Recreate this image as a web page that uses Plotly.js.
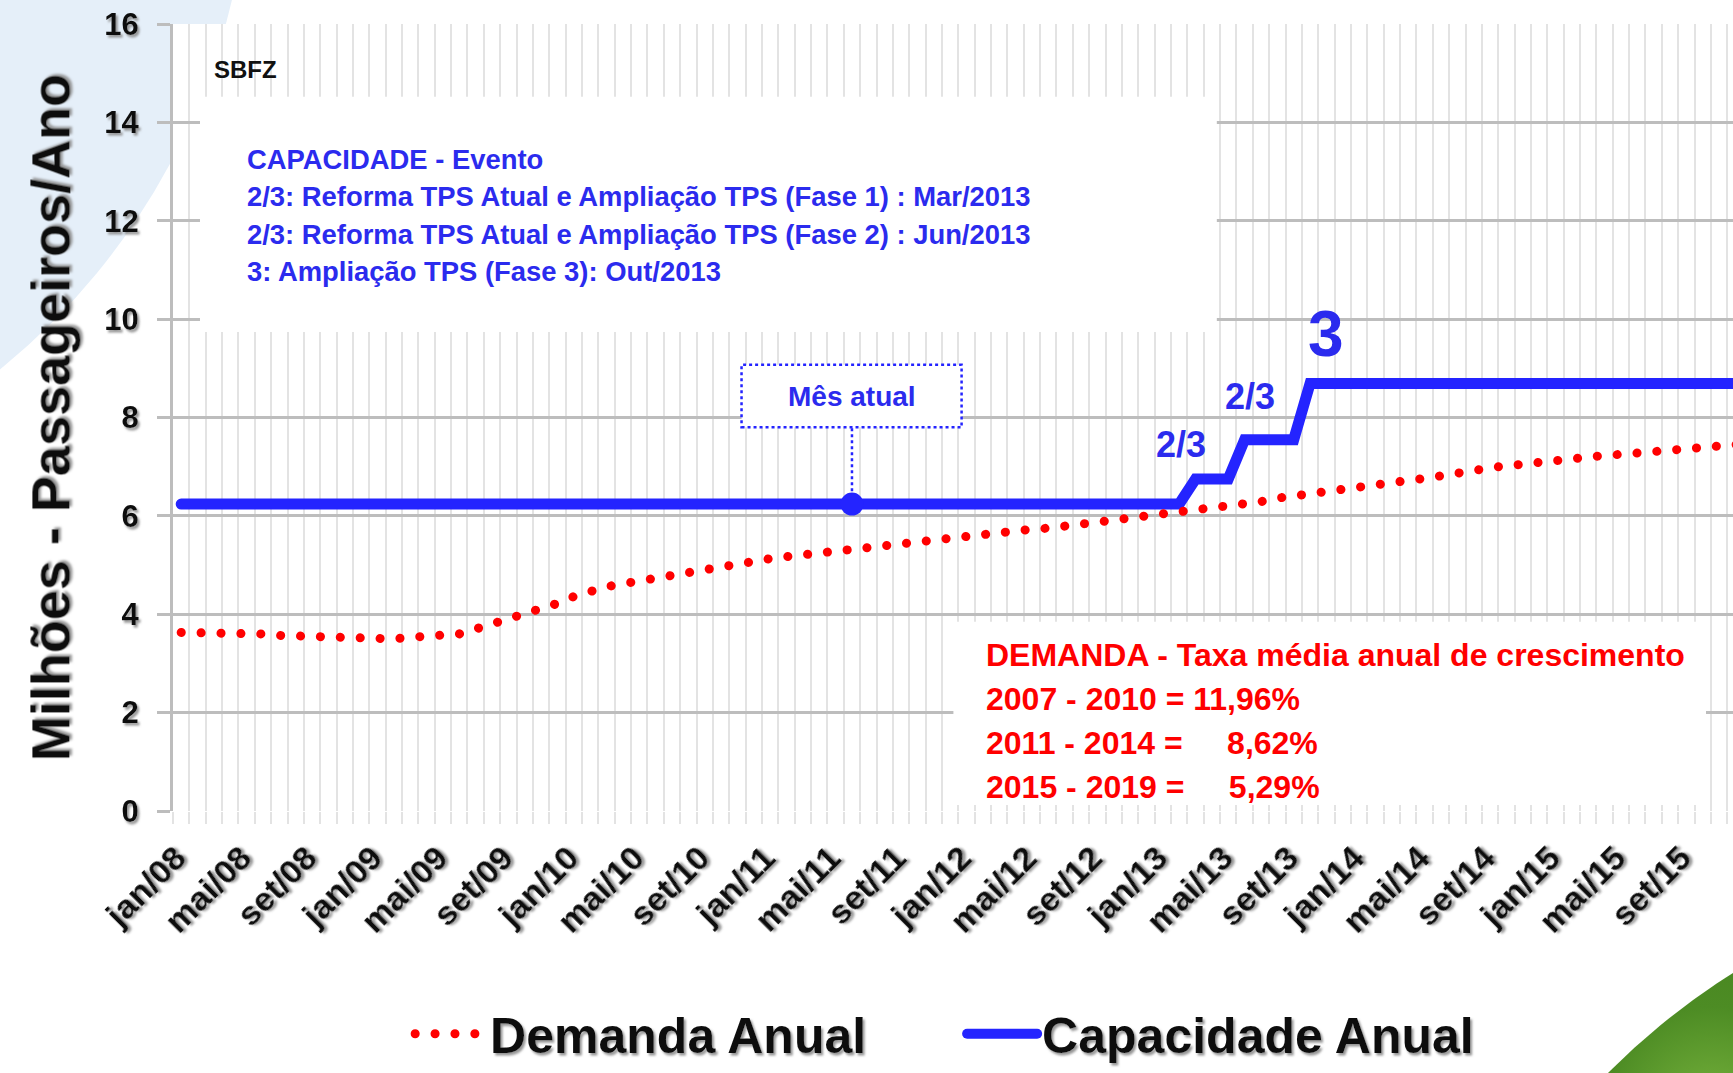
<!DOCTYPE html>
<html>
<head>
<meta charset="utf-8">
<script src="https://cdn.plot.ly/plotly-3.0.1.min.js"></script>
<style>
html,body{margin:0;padding:0;background:#fff;overflow:hidden}
#wrap{position:relative;width:1733px;height:1073px;overflow:hidden;background:#fff}
#bgblue{position:absolute;left:-1100px;top:-830px;width:1350px;height:1350px;border-radius:50%;background:#e5eff9}
#bggreen{position:absolute;left:1403px;top:865px;width:1410px;height:1410px;border-radius:50%;background:radial-gradient(circle at 22% 18%,#79b43e 0%,#4d8c24 7%,#2f6a12 28%)}
#chart{position:absolute;left:0;top:0;width:1733px;height:1073px}
.scatterlayer path.js-line,.legend path.js-line{stroke-linecap:round}
.xtick text,.ytick text,.ytitle,.legendtext{filter:url(#sh)}
</style>
</head>
<body>
<svg width="0" height="0" style="position:absolute">
  <defs>
    <filter id="sh" x="-10%" y="-30%" width="130%" height="170%">
      <feDropShadow dx="2" dy="2.5" stdDeviation="1" flood-color="#8a8a8a" flood-opacity="0.9"/>
    </filter>
  </defs>
</svg>
<div id="wrap">
  <div id="bgblue"></div>
  <div id="bggreen"></div>
  <div id="chart"></div>
</div>
<script>
// ---- data ----
const monthNames = ['jan','fev','mar','abr','mai','jun','jul','ago','set','out','nov','dez'];
const yearCodes = ['08','09','10','11','12','13','14','15','16'];
const nMonths = 97; // jan/08 .. jan/16

const tickLabels = ['jan/08','mai/08','set/08','jan/09','mai/09','set/09','jan/10','mai/10','set/10',
  'jan/11','mai/11','set/11','jan/12','mai/12','set/12','jan/13','mai/13','set/13',
  'jan/14','mai/14','set/14','jan/15','mai/15','set/15'];

// Demanda Anual (milhões de passageiros/ano), monthly from jan/08
const demanda = [
  3.63,3.63,3.62,3.62,3.61,3.60,3.57,3.56,3.56,3.55,3.52,3.49,
  3.48,3.50,3.53,3.55,3.56,3.60,3.70,3.80,3.91,4.00,4.12,4.22,
  4.36,4.47,4.56,4.62,4.68,4.73,4.78,4.84,4.93,4.99,5.04,5.09,
  5.13,5.17,5.21,5.23,5.25,5.29,5.33,5.37,5.42,5.46,5.49,5.53,
  5.57,5.62,5.66,5.70,5.73,5.75,5.79,5.83,5.86,5.89,5.94,5.99,
  6.03,6.07,6.12,6.17,6.21,6.24,6.29,6.36,6.41,6.44,6.48,6.55,
  6.60,6.64,6.69,6.72,6.76,6.80,6.86,6.92,6.98,7.02,7.05,7.09,
  7.14,7.17,7.20,7.23,7.25,7.27,7.30,7.34,7.37,7.39,7.42,7.45,
  7.47
];

// Capacidade Anual (milhões de passageiros/ano), monthly from jan/08
const capacidade = [
  6.24,6.24,6.24,6.24,6.24,6.24,6.24,6.24,6.24,6.24,6.24,6.24,
  6.24,6.24,6.24,6.24,6.24,6.24,6.24,6.24,6.24,6.24,6.24,6.24,
  6.24,6.24,6.24,6.24,6.24,6.24,6.24,6.24,6.24,6.24,6.24,6.24,
  6.24,6.24,6.24,6.24,6.24,6.24,6.24,6.24,6.24,6.24,6.24,6.24,
  6.24,6.24,6.24,6.24,6.24,6.24,6.24,6.24,6.24,6.24,6.24,6.24,
  6.24,6.24,6.75,6.75,6.75,7.55,7.55,7.55,7.55,8.69,8.69,8.69,
  8.69,8.69,8.69,8.69,8.69,8.69,8.69,8.69,8.69,8.69,8.69,8.69,
  8.69,8.69,8.69,8.69,8.69,8.69,8.69,8.69,8.69,8.69,8.69,8.69,
  8.69
];

const mesAtual = 'jun/11';

const eventoLinhas = [
  'CAPACIDADE - Evento',
  '2/3: Reforma TPS Atual e Ampliação TPS (Fase 1) : Mar/2013',
  '2/3: Reforma TPS Atual e Ampliação TPS (Fase 2) : Jun/2013',
  '3: Ampliação TPS (Fase 3): Out/2013'
];
const demandaLinhas = [
  'DEMANDA - Taxa média anual de crescimento',
  '2007 - 2010 = 11,96%',
  '2011 - 2014 =\u00a0\u00a0\u00a0\u00a0 8,62%',
  '2015 - 2019 =\u00a0\u00a0\u00a0\u00a0 5,29%'
];
const eventos = [
  {label:'2/3', month:'fev/13'},
  {label:'2/3', month:'jun/13'},
  {label:'3',   month:'out/13'}
];

// ---- build ----
const months = [];
for (const y of yearCodes) for (const m of monthNames) if (months.length < nMonths) months.push(m + '/' + y);
const xIdx = months.map((_, i) => i);
const tickvals = tickLabels.map(l => months.indexOf(l));
const iAtual = months.indexOf(mesAtual);

const BLUE = '#2424ff';
const BLUE_TXT = '#2b2bee';
const RED = '#ff0000';
const FONT = 'Liberation Sans, Arial, sans-serif';

const traces = [
  {x:xIdx, y:capacidade, type:'scatter', mode:'lines', name:'Capacidade Anual',
   line:{color:BLUE, width:11}, legendrank:2, hoverinfo:'skip'},
  {x:xIdx, y:demanda, type:'scatter', mode:'lines', name:'Demanda Anual',
   line:{color:RED, width:9, dash:'0.1px,19.8px'}, legendrank:1, hoverinfo:'skip'},
  {x:[iAtual], y:[capacidade[iAtual]], type:'scatter', mode:'markers', showlegend:false,
   marker:{color:BLUE, size:23}, hoverinfo:'skip'}
];

const annotations = [];
annotations.push({xref:'x', yref:'y', x:1.88, y:15.08, xanchor:'left', yanchor:'middle', showarrow:false,
  text:'SBFZ', font:{family:FONT, size:24, weight:'bold', color:'#111'}});
const evY = [13.25, 12.50, 11.73, 10.97];
eventoLinhas.forEach((t, k) => annotations.push({xref:'x', yref:'y', x:3.89, y:evY[k], xanchor:'left', yanchor:'middle',
  showarrow:false, text:t, font:{family:FONT, size:27.4, weight:'bold', color:BLUE_TXT}}));
const dmY = [3.17, 2.27, 1.38, 0.49];
demandaLinhas.forEach((t, k) => annotations.push({xref:'x', yref:'y', x:49.07, y:dmY[k], xanchor:'left', yanchor:'middle',
  showarrow:false, text:t, font:{family:FONT, size:32, weight:'bold', color:RED}}));
annotations.push({xref:'x', yref:'y', x:iAtual, y:8.43, xanchor:'center', yanchor:'middle', showarrow:false,
  text:'Mês atual', font:{family:FONT, size:28, weight:'bold', color:BLUE_TXT}});
const evPos = [{dx:0.1, y:7.46, size:36}, {dx:0.3, y:8.43, size:36}, {dx:1.0, y:9.70, size:64}];
eventos.forEach((e, k) => annotations.push({xref:'x', yref:'y', x:months.indexOf(e.month) + evPos[k].dx, y:evPos[k].y,
  xanchor:'center', yanchor:'middle', showarrow:false, text:e.label,
  font:{family:FONT, size:evPos[k].size, weight:'bold', color:BLUE_TXT}}));

const shapes = [
  {type:'rect', xref:'x', yref:'y', x0:1.15, x1:63.3, y0:9.74, y1:14.52, fillcolor:'#ffffff', line:{width:0}, layer:'above'},
  {type:'rect', xref:'x', yref:'y', x0:47.2, x1:93.2, y0:0.12, y1:3.85, fillcolor:'#ffffff', line:{width:0}, layer:'above'},
  {type:'rect', xref:'x', yref:'y', x0:iAtual - 6.75, x1:iAtual + 6.7, y0:7.80, y1:9.07, fillcolor:'#ffffff',
   line:{color:BLUE, width:2.5, dash:'dot'}, layer:'above'},
  {type:'line', xref:'x', yref:'y', x0:iAtual, x1:iAtual, y0:6.5, y1:7.80, line:{color:BLUE, width:2.5, dash:'dot'}, layer:'above'}
];

const layout = {
  width:1733, height:1073,
  margin:{l:173, r:0, t:24, b:255, pad:0},
  paper_bgcolor:'rgba(0,0,0,0)',
  plot_bgcolor:'#ffffff',
  font:{family:FONT, color:'#000'},
  showlegend:true,
  xaxis:{
    range:[-0.5, 94.85], tickmode:'array', tickvals:tickvals, ticktext:tickLabels,
    tickangle:-45, tickfont:{family:FONT, size:34, weight:'bold', color:'#111'},
    ticklabelstandoff:19, ticklabelshift:-5,
    ticks:'', showgrid:false, zeroline:false, showline:false, fixedrange:true,
    minor:{tickmode:'linear', tick0:0.5, dtick:1, showgrid:true, gridcolor:'#e3e3e3', gridwidth:2,
      ticks:'outside', ticklen:12, tickcolor:'#e3e3e3', tickwidth:2}
  },
  yaxis:{
    range:[0,16], tickmode:'linear', tick0:0, dtick:2,
    showgrid:true, gridcolor:'#bdbdbd', gridwidth:3,
    ticks:'outside', ticklen:13, tickwidth:3, tickcolor:'#bdbdbd',
    showline:true, linecolor:'#bdbdbd', linewidth:3, zeroline:false, fixedrange:true,
    tickfont:{family:FONT, size:31, weight:'bold', color:'#111'},
    ticklabelstandoff:12,
    title:{text:'Milhões - Passageiros/Ano\u00a0\u00a0', font:{family:FONT, size:54, weight:'bold', color:'#111'}, standoff:18}
  },
  legend:{orientation:'h', x:0.152, xanchor:'left', y:-0.283, yanchor:'middle',
    font:{family:FONT, size:50, weight:'bold', color:'#111'}, itemwidth:70, entrywidth:467,
    bgcolor:'rgba(0,0,0,0)', traceorder:'normal'},
  shapes:shapes,
  annotations:annotations
};

Plotly.newPlot('chart', traces, layout, {displayModeBar:false, staticPlot:true});
</script>
</body>
</html>
